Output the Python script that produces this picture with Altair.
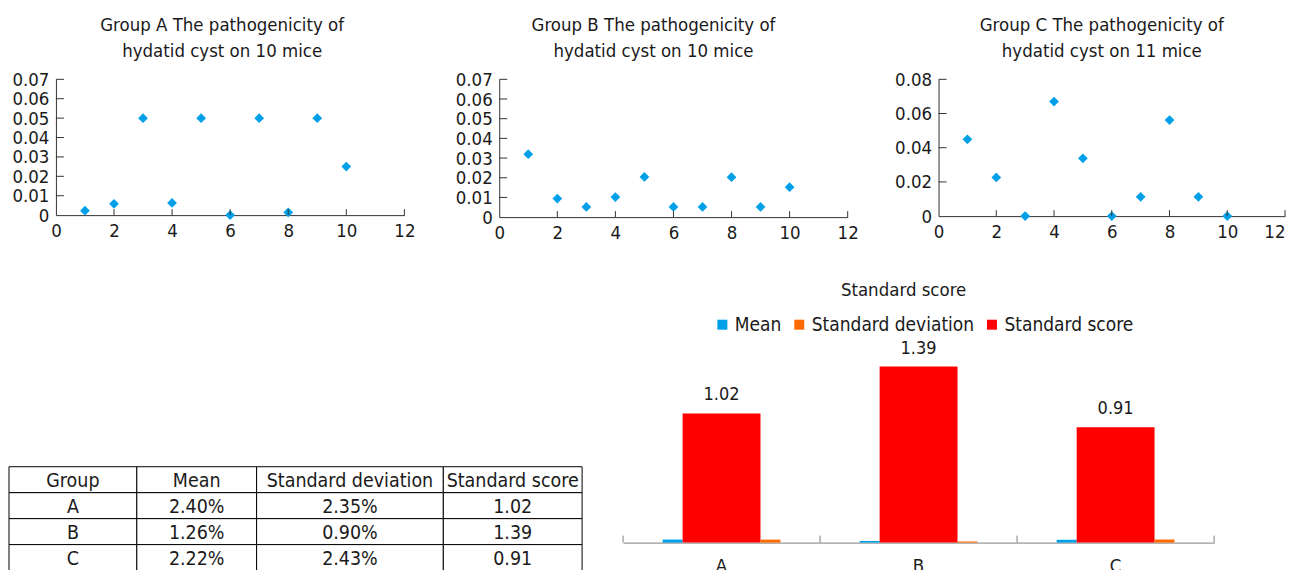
import altair as alt
import pandas as pd

# ---------------- data ----------------
mice = [1, 2, 3, 4, 5, 6, 7, 8, 9, 10]
group_a = [0.0023, 0.0058, 0.050, 0.0063, 0.050, 0.0, 0.050, 0.0014, 0.050, 0.025]
group_b = [0.032, 0.0094, 0.0052, 0.0102, 0.0204, 0.0052, 0.0052, 0.0203, 0.0052, 0.0152]
group_c = [0.0449, 0.0226, 0.0, 0.067, 0.0338, 0.0, 0.0113, 0.0562, 0.0113, 0.0]

x_ticks = [0, 2, 4, 6, 8, 10, 12]
y_ticks_ab = [0, 0.01, 0.02, 0.03, 0.04, 0.05, 0.06, 0.07]
y_ticks_c = [0, 0.02, 0.04, 0.06, 0.08]

title_a = ["Group A The pathogenicity of", "hydatid cyst on 10 mice"]
title_b = ["Group B The pathogenicity of", "hydatid cyst on 10 mice"]
title_c = ["Group C The pathogenicity of", "hydatid cyst on 11 mice"]

groups = ["A", "B", "C"]
means = [0.0240, 0.0126, 0.0222]
sds = [0.0235, 0.0090, 0.0243]
scores = [1.02, 1.39, 0.91]
measures = ["Mean", "Standard deviation", "Standard score"]

table_header = ["Group", "Mean", "Standard deviation", "Standard score"]
mean_labels = ["2.40%", "1.26%", "2.22%"]
sd_labels = ["2.35%", "0.90%", "2.43%"]
score_labels = ["1.02", "1.39", "0.91"]

# ---------------- style ----------------
FONT = "DejaVu Sans Condensed"
BLUE = "#00a0e9"
ORANGE = "#ff6a00"
RED = "#ff0000"
AX = "#333333"
TXT = "#1a1a1a"


def scatter(values, yticks, ymax, title, w, h, toffset, tdx, flush_last=False):
    df = pd.DataFrame({"mouse": mice, "value": values})
    xs = alt.Scale(domain=[0, 12], nice=False, zero=False)
    ys = alt.Scale(domain=[0, ymax], nice=False)
    xaxis_kw = dict(values=x_ticks, title=None, grid=False, ticks=False,
                    domainColor=AX, labelFontSize=18.5, labelPadding=6,
                    labelColor=TXT, labelFont=FONT, labelFlush=False)
    if flush_last:
        xaxis_kw["labelAlign"] = {"condition": {"test": "datum.value == 12", "value": "right"},
                                  "value": "center"}
    xaxis = alt.Axis(**xaxis_kw)
    yaxis = alt.Axis(values=yticks, title=None, grid=False, ticks=False,
                     domainColor=AX, labelFontSize=18.5, labelPadding=7,
                     labelColor=TXT, labelFont=FONT,
                     labelExpr="datum.value == 0 ? '0' : format(datum.value, '.2f')")
    pts = alt.Chart(df).mark_point(
        shape="diamond", filled=True, size=95, color=BLUE, opacity=1
    ).encode(
        x=alt.X("mouse:Q", scale=xs, axis=xaxis),
        y=alt.Y("value:Q", scale=ys, axis=yaxis),
    )
    xt = alt.Chart(pd.DataFrame({"t": x_ticks[1:]})).mark_rule(color=AX).encode(
        x=alt.X("t:Q", scale=xs, axis=xaxis), y=alt.value(h), y2=alt.value(h - 6))
    yt = alt.Chart(pd.DataFrame({"t": yticks[1:]})).mark_rule(color=AX).encode(
        y=alt.Y("t:Q", scale=ys, axis=yaxis), x=alt.value(0), x2=alt.value(8))
    return alt.layer(pts, xt, yt).properties(
        width=w, height=h,
        title=alt.TitleParams(title, fontSize=18.5, font=FONT, fontWeight="normal",
                              color=TXT, lineHeight=26.5, offset=toffset, dx=tdx,
                              anchor="middle", frame="group"))


sa = scatter(group_a, y_ticks_ab, 0.07, title_a, 349, 136, 9.5, -8)
sb = scatter(group_b, y_ticks_ab, 0.07, title_b, 349, 138, 9.5, -20)
sc = scatter(group_c, y_ticks_c, 0.08, title_c, 347, 137, 9.5, -10, flush_last=True)

top_row = alt.hconcat(alt.hconcat(sa, sb, spacing=39), sc, spacing=35)

# ---------------- table ----------------
COL_W = [128, 120, 187, 139]
ROW_H = 26
TABLE_TOP = 127
TABLE_SHIFT = 47
rows = [table_header] + [[g, m, s, z] for g, m, s, z in zip(groups, mean_labels, sd_labels, score_labels)]
TABLE_H = TABLE_TOP + ROW_H * len(rows)
cells = []
for r, row in enumerate(rows):
    x0 = 0
    for c, txt in enumerate(row):
        cells.append({"x0": x0, "x1": x0 + COL_W[c], "xm": x0 + COL_W[c] / 2,
                      "y0": TABLE_TOP + r * ROW_H, "y1": TABLE_TOP + (r + 1) * ROW_H,
                      "ym": TABLE_TOP + (r + 0.5) * ROW_H, "txt": txt})
        x0 += COL_W[c]
cells_df = pd.DataFrame(cells)
tx = alt.Scale(domain=[TABLE_SHIFT, sum(COL_W)], nice=False, zero=False)
ty = alt.Scale(domain=[0, TABLE_H], nice=False, reverse=True)
t_rect = alt.Chart(cells_df).mark_rect(fill="white", stroke="black", strokeWidth=1).encode(
    x=alt.X("x0:Q", scale=tx, axis=None), x2="x1:Q",
    y=alt.Y("y0:Q", scale=ty, axis=None), y2="y1:Q")
t_text = alt.Chart(cells_df).mark_text(fontSize=19.5, font=FONT, color=TXT, baseline="middle", dy=1).encode(
    x=alt.X("xm:Q", scale=tx, axis=None), y=alt.Y("ym:Q", scale=ty, axis=None), text="txt:N")
table = alt.layer(t_rect, t_text).properties(width=sum(COL_W) - TABLE_SHIFT, height=TABLE_H)

# ---------------- bar chart ----------------
BAR_H = 203
bar_rows = []
for g, m, s, z in zip(groups, means, sds, scores):
    bar_rows.append({"Group": g, "Measure": "Mean", "Value": m})
    bar_rows.append({"Group": g, "Measure": "Standard deviation", "Value": s})
    bar_rows.append({"Group": g, "Measure": "Standard score", "Value": z})
bdf = pd.DataFrame(bar_rows)

bx = alt.Scale(domain=groups, paddingInner=0, paddingOuter=0)
by = alt.Scale(domain=[0, 1.6], nice=False)
color = alt.Color("Measure:N", scale=alt.Scale(domain=measures, range=[BLUE, ORANGE, RED]),
                  legend=alt.Legend(title=None, orient="none", direction="horizontal",
                                    legendX=90, legendY=-25, symbolType="square",
                                    symbolSize=100, symbolStrokeWidth=0,
                                    labelFontSize=19, labelFont=FONT, labelColor=TXT,
                                    labelLimit=400, labelOffset=3, columnPadding=8,
                                    padding=0))
bxaxis = alt.Axis(title=None, labelAngle=0, ticks=False, grid=False, domainColor="#808080",
                  labelFontSize=18.5, labelFont=FONT, labelColor=TXT, labelPadding=14)
xenc = alt.X("Group:N", scale=bx, axis=bxaxis)
yenc = alt.Y("Value:Q", scale=by, axis=None)

base = alt.Chart(bdf)
b_mean = base.transform_filter(alt.datum.Measure == "Mean").mark_bar(width=20, xOffset=-49).encode(
    x=xenc, y=yenc, color=color)
b_score = base.transform_filter(alt.datum.Measure == "Standard score").mark_bar(width=78).encode(
    x=xenc, y=yenc, color=color)
b_sd = base.transform_filter(alt.datum.Measure == "Standard deviation").mark_bar(width=20, xOffset=49).encode(
    x=xenc, y=yenc, color=color)
b_text = base.transform_filter(alt.datum.Measure == "Standard score").mark_text(
    fontSize=18, font=FONT, color=TXT, baseline="bottom", dy=-9).encode(
    x=xenc, y=yenc, text=alt.Text("Value:Q", format=".2f"))
tick_df = pd.DataFrame({"Group": groups})
b_tick0 = alt.Chart(tick_df).mark_rule(color="#808080").encode(
    x=alt.X("Group:N", scale=bx, bandPosition=0, axis=bxaxis),
    y=alt.value(BAR_H), y2=alt.value(BAR_H - 7))
b_tick1 = alt.Chart(tick_df).transform_filter(alt.datum.Group == groups[-1]).mark_rule(color="#808080").encode(
    x=alt.X("Group:N", scale=bx, bandPosition=1, axis=bxaxis),
    y=alt.value(BAR_H), y2=alt.value(BAR_H - 7))

bars = alt.layer(b_mean, b_score, b_sd, b_text, b_tick0, b_tick1).properties(
    width=592, height=BAR_H,
    title=alt.TitleParams("Standard score", fontSize=18.5, font=FONT, fontWeight="normal",
                          color=TXT, offset=15, dx=-15, anchor="middle", frame="group"))

bottom_row = alt.hconcat(table, bars, spacing=39).resolve_legend(color="independent")

chart = alt.vconcat(top_row, bottom_row, spacing=39).resolve_legend(color="independent").properties(
    padding={"left": 0, "top": 7, "right": 0, "bottom": 0}
).configure_view(stroke=None)

chart.save("out.html", embed_options={"renderer": "svg", "actions": False})
